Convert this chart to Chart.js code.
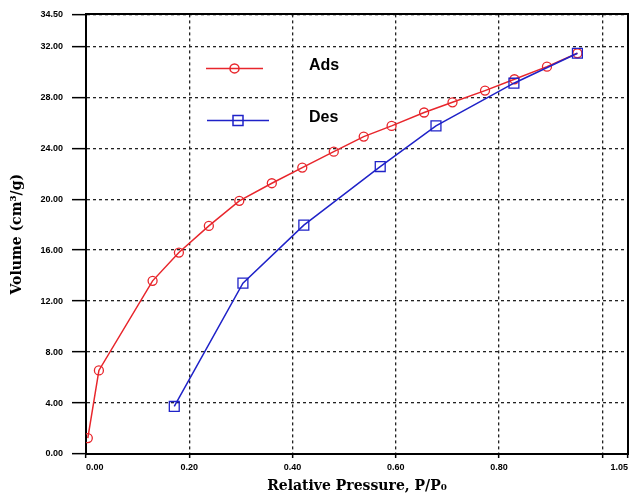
<!DOCTYPE html>
<html>
<head>
<meta charset="utf-8">
<script src="https://cdn.jsdelivr.net/npm/chart.js@4.4.1/dist/chart.umd.min.js"></script>
<style>
  body { margin: 0; background: #fff; }
</style>
</head>
<body>
<canvas id="iso-chart" width="629" height="496"></canvas>
<script>
// adsorption branch (P/P0, volume)
var adsP = [0.0035, 0.025, 0.129, 0.18, 0.238, 0.297, 0.36, 0.419, 0.48, 0.538, 0.592, 0.655, 0.71, 0.773, 0.83, 0.893, 0.952];
var adsV = [1.25, 6.56, 13.59, 15.81, 17.9, 19.87, 21.25, 22.48, 23.73, 24.91, 25.75, 26.8, 27.6, 28.52, 29.41, 30.4, 31.45];

// desorption branch
var desP = [0.171, 0.304, 0.422, 0.57, 0.678, 0.829, 0.952];
var desV = [3.73, 13.41, 17.96, 22.56, 25.75, 29.1, 31.45];

var xTicks = [0, 0.2, 0.4, 0.6, 0.8, 1.0, 1.05];
var yTicks = [0, 4, 8, 12, 16, 20, 24, 28, 32, 34.5];

var RED = "#e8262c";
var BLUE = "#1f22c8";

function pts(xs, ys) {
    return xs.map(function (x, i) { return { x: x, y: ys[i] }; });
}

var tickFont = { family: "'Liberation Sans Narrow', 'Arial Narrow', 'Liberation Sans'", size: 9, weight: "bold" };
var titleFont = { family: "'DejaVu Serif', 'Liberation Serif', serif", size: 14, weight: "bold", lineHeight: 1.2 };

// legend drawn inside the plot, upper left
var innerLegend = {
    id: "innerLegend",
    afterDraw: function (chart) {
        var ctx = chart.ctx;
        var a = chart.chartArea;
        var rows = [
            { label: "Ads", color: RED, shape: "circle", x0: a.left + 120, x1: a.left + 177, y: a.top + 54 },
            { label: "Des", color: BLUE, shape: "rect", x0: a.left + 121, x1: a.left + 183, y: a.top + 106 }
        ];
        ctx.save();
        rows.forEach(function (r) {
            ctx.strokeStyle = r.color;
            ctx.lineWidth = 1.5;
            ctx.beginPath();
            ctx.moveTo(r.x0, r.y);
            ctx.lineTo(r.x1, r.y);
            ctx.stroke();
            var cx = (r.x0 + r.x1) / 2;
            ctx.beginPath();
            if (r.shape === "circle") {
                ctx.arc(cx, r.y, 4.5, 0, Math.PI * 2);
            } else {
                ctx.rect(cx - 5, r.y - 5, 10, 10);
            }
            ctx.stroke();
            ctx.fillStyle = "#000";
            ctx.font = "bold 16px 'Liberation Sans', Arial, sans-serif";
            ctx.textBaseline = "middle";
            ctx.fillText(r.label, a.left + 223, r.y - 3);
        });
        ctx.restore();
    }
};

new Chart(document.getElementById("iso-chart"), {
    type: "line",
    data: {
        datasets: [{
            label: "Des",
            data: pts(desP, desV),
            borderColor: BLUE,
            backgroundColor: "transparent",
            borderWidth: 1.5,
            pointStyle: "rect",
            pointRadius: 7,
            pointBorderWidth: 1.3,
            pointBorderColor: BLUE,
            tension: 0,
            order: 1
        }, {
            label: "Ads",
            data: pts(adsP, adsV),
            borderColor: RED,
            backgroundColor: "transparent",
            borderWidth: 1.5,
            pointStyle: "circle",
            pointRadius: 4.5,
            pointBorderWidth: 1.3,
            pointBorderColor: RED,
            tension: 0,
            order: 2
        }]
    },
    options: {
        responsive: false,
        animation: false,
        layout: { autoPadding: false, padding: { top: 13, right: 1, left: 0, bottom: 0 } },
        plugins: {
            legend: { display: false },
            tooltip: { enabled: false }
        },
        scales: {
            x: {
                type: "linear",
                min: 0,
                max: 1.05,
                afterBuildTicks: function (s) { s.ticks = xTicks.map(function (v) { return { value: v }; }); },
                afterFit: function (s) {
                    s.height = 42;
                    // end labels are aligned inward, so no extra edge room is needed
                    s.paddingLeft = 0;
                    s.paddingRight = 0;
                },
                ticks: {
                    autoSkip: false,
                    maxRotation: 0,
                    align: "inner",
                    padding: 4,
                    color: "#000",
                    font: tickFont,
                    callback: function (v) { return v === 1.0 ? "" : v.toFixed(2); }
                },
                grid: {
                    color: "#222",
                    lineWidth: 1.3,
                    tickLength: 4,
                    tickColor: "#000",
                    tickWidth: 1.5
                },
                border: { color: "#000", width: 2, dash: [3, 3] },
                title: {
                    display: true,
                    text: "Relative Pressure, P/P\u2080",
                    color: "#000",
                    font: titleFont,
                    padding: { top: 0, bottom: 1 }
                }
            },
            y: {
                type: "linear",
                min: 0,
                max: 34.5,
                afterBuildTicks: function (s) { s.ticks = yTicks.map(function (v) { return { value: v }; }); },
                afterFit: function (s) { s.width = 86; },
                ticks: {
                    autoSkip: false,
                    padding: 9,
                    color: "#000",
                    font: tickFont,
                    callback: function (v) { return v.toFixed(2); }
                },
                grid: {
                    color: "#222",
                    lineWidth: 1.3,
                    tickLength: 14,
                    tickColor: "#000",
                    tickWidth: 1.5
                },
                border: { color: "#000", width: 2, dash: [3, 3] },
                title: {
                    display: true,
                    text: "Volume (cm\u00b3/g)",
                    color: "#000",
                    font: titleFont,
                    padding: { top: 9, bottom: 0 }
                }
            },
            // plain axes used only for the solid top and right frame lines
            xTop: {
                type: "linear",
                position: "top",
                min: 0,
                max: 1.05,
                ticks: { display: false },
                grid: { display: false },
                border: { color: "#000", width: 2 },
                afterFit: function (s) { s.height = 0; }
            },
            yRight: {
                type: "linear",
                position: "right",
                min: 0,
                max: 34.5,
                ticks: { display: false },
                grid: { display: false },
                border: { color: "#000", width: 2 },
                afterFit: function (s) { s.width = 0; }
            }
        }
    },
    plugins: [innerLegend]
});
</script>
</body>
</html>
